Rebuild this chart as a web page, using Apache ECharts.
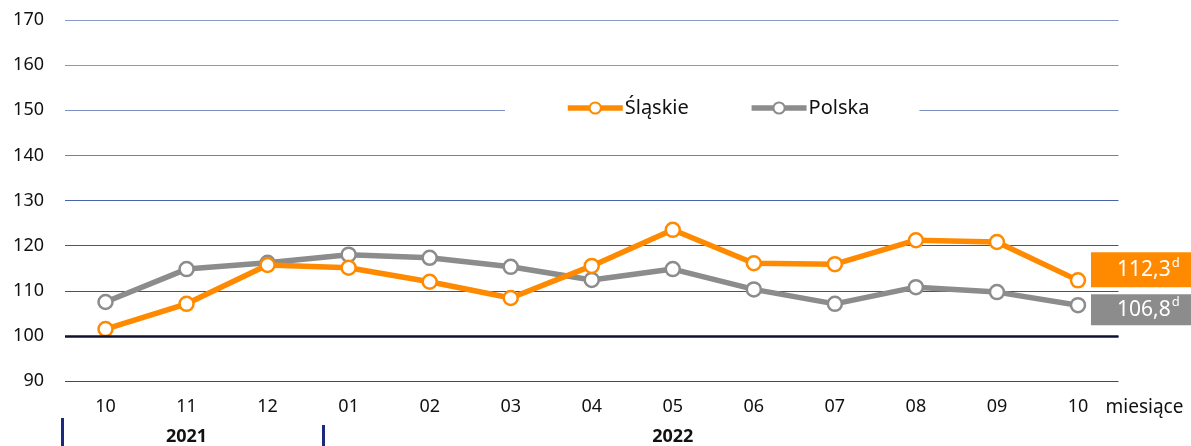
<!DOCTYPE html>
<html><head><meta charset="utf-8">
<script src="https://cdn.jsdelivr.net/npm/echarts@6/dist/echarts.min.js"></script>
<style>html,body{margin:0;padding:0;background:#fff}#c{width:1191px;height:446px}</style>
</head><body><div id="c"></div>
<script>
var months = ['10','11','12','01','02','03','04','05','06','07','08','09','10'];
var yearLabels = ['','2021','','','','','','2022','','','','',''];
var slaskie = [101.5,107.1,115.7,115.1,112.0,108.4,115.5,123.5,116.1,115.9,121.2,120.8,112.3];
var polska = [107.5,114.8,116.2,118.0,117.3,115.3,112.4,114.8,110.3,107.1,110.8,109.7,106.8];
var lastLabels = ['112,3','106,8'];
var FONT = 'Noto Sans';
var chart = echarts.init(document.getElementById('c'));
function endLbl(bg, dy, h, idx){
  return {show:true, position:'right', distance:5, offset:[8,dy],
    formatter:function(){return '{v|'+lastLabels[idx]+'}{s|d}';},
    backgroundColor:bg, width:100, height:h, align:'left', padding:0,
    rich:{v:{color:'#fff',fontSize:21,fontFamily:FONT,lineHeight:h,verticalAlign:'middle',padding:[0,0,0,26]},
          s:{color:'#fff',fontSize:13,fontFamily:FONT,lineHeight:h,verticalAlign:'middle',padding:[0,0,14,1]}}};
}
chart.setOption({
  animation:false,
  textStyle:{fontFamily:FONT},
  grid:{left:65,right:72.5,top:20,bottom:65,containLabel:false},
  legend:{left:505,top:92,padding:[6,50,6,60],backgroundColor:'#fff',itemWidth:55,itemHeight:14,itemGap:60,
    lineStyle:{width:5.5},
    textStyle:{fontSize:20,color:'#111',fontFamily:FONT,padding:[0,0,0,-3]},
    data:['Śląskie','Polska']},
  xAxis:[{type:'category',data:months,boundaryGap:true,
    axisLine:{show:false},axisTick:{show:false},
    axisLabel:{fontSize:18,color:'#111',margin:17},
    name:'miesiące',nameLocation:'end',nameGap:-13,
    nameTextStyle:{fontSize:19,color:'#111',align:'left',verticalAlign:'top',lineHeight:20,padding:[17,0,0,0]}},
   {type:'category',data:yearLabels,position:'bottom',offset:30,boundaryGap:true,
    axisLine:{show:false},axisTick:{show:false},
    axisLabel:{fontSize:18,fontWeight:'bold',color:'#111',margin:17,interval:0}}],
  yAxis:{type:'value',min:90,max:170,interval:10,
    axisLine:{show:false},axisTick:{show:false},
    axisLabel:{fontSize:18,color:'#111',margin:21},
    splitLine:{lineStyle:{width:1.2,color:['#2c4898','#2c4898','#35509c','#3a55a0','#4a62a8','#6a7eb8','#7d90c2','#8797c6','#8a9ac8']}}},
  series:[
   {name:'Śląskie',type:'line',data:slaskie,z:3,symbol:'circle',symbolSize:14,
    lineStyle:{color:'#ff8a00',width:5.5},itemStyle:{color:'#fff',borderColor:'#ff8a00',borderWidth:2.5},
    endLabel:endLbl('#ff8a00',-10.5,35,0),
    markLine:{silent:true,symbol:'none',label:{show:false},lineStyle:{color:'#101030',width:2.6,type:'solid'},data:[{yAxis:100}]}},
   {name:'Polska',type:'line',data:polska,z:2,symbol:'circle',symbolSize:14,
    lineStyle:{color:'#8c8c8c',width:5.5},itemStyle:{color:'#fff',borderColor:'#8c8c8c',borderWidth:2.5},
    endLabel:endLbl('#8c8c8c',4.5,31,1)}
  ],
  graphic:[
   {type:'rect',shape:{x:61,y:418,width:3,height:28},style:{fill:'#1a2a80'}},
   {type:'rect',shape:{x:322,y:425,width:3,height:21},style:{fill:'#1a2a80'}}
  ]
});
</script></body></html>
